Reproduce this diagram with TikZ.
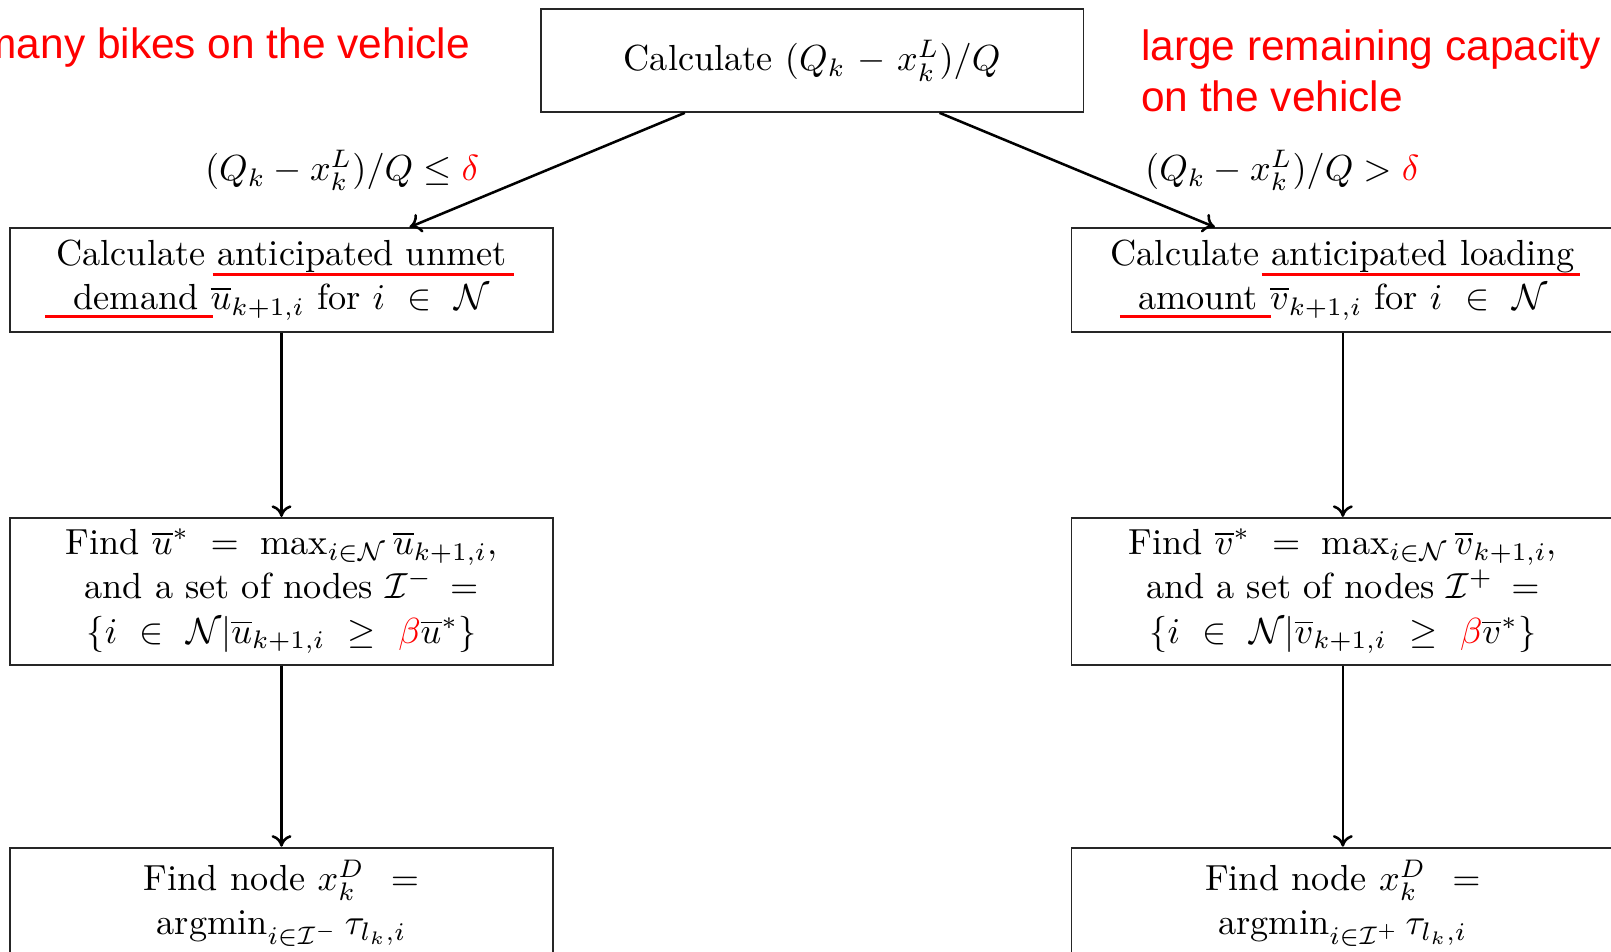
\documentclass[tikz,border=0pt]{standalone}
\usepackage{fontspec}
\newfontfamily\annotfont{Liberation Sans}
\usetikzlibrary{calc,arrows.meta}
\begin{document}
\begin{tikzpicture}[x=0.2833pt,y=-0.2833pt,
  box/.style={draw=black!85, line width=0.5pt, rectangle, align=center,
    minimum width=149.6pt, text width=140pt, inner xsep=4.8pt, inner ysep=0pt,
    font=\fontsize{10}{12.2}\selectfont},
  cond/.style={font=\fontsize{10}{12}\selectfont, inner sep=0pt},
  arr/.style={-{To[length=3.2pt,width=5.5pt]}, line width=0.7pt},
  note/.style={text=red, font=\annotfont\fontsize{11.7}{14.2}\selectfont, inner sep=0pt},
  uline/.style={red, line width=0.9pt}]
\useasboundingbox (0,0) rectangle (1568,926);
\clip (0,0) rectangle (1568,926);

% boxes
\node[box, minimum height=28.3pt] (top) at (790.5,59) {Calculate $(Q_k - x_k^L)/Q$};
\node[box, minimum height=28.6pt] (l1) at (274,272.5)
  {Calculate anticipated unmet\\ demand $\overline{u}_{k+1,i}$ for $i \,\in\, \mathcal{N}$};
\node[box, minimum height=28.6pt] (r1) at (1307,272.5)
  {Calculate anticipated loading\\ amount $\overline{v}_{k+1,i}$ for $i \,\in\, \mathcal{N}$};
\node[box, minimum height=40.5pt] (l2) at (274,575.5)
  {Find $\overline{u}^{*} \,=\, \max_{i\in\mathcal{N}}\overline{u}_{k+1,i}$,\\
   and a set of nodes $\mathcal{I}^{-} =$\\
   $\{i \mkern2mu\in\mkern2mu \mathcal{N}|\overline{u}_{k+1,i} \mkern2mu\geq\mkern2mu {\color{red}\beta}\overline{u}^{*}\}$};
\node[box, minimum height=40.5pt] (r2) at (1307,575.5)
  {Find $\overline{v}^{*} \,=\, \max_{i\in\mathcal{N}}\overline{v}_{k+1,i}$,\\
   and a set of nodes $\mathcal{I}^{+} =$\\
   $\{i \mkern2mu\in\mkern2mu \mathcal{N}|\overline{v}_{k+1,i} \mkern2mu\geq\mkern2mu {\color{red}\beta}\overline{v}^{*}\}$};
\node[box, minimum height=30.6pt] (l3) at (274,879)
  {Find node $x_k^D =$\\ $\mathrm{argmin}_{i\in\mathcal{I}^{-}}\,\tau_{l_k,i}$};
\node[box, minimum height=30.6pt] (r3) at (1307,879)
  {Find node $x_k^D =$\\ $\mathrm{argmin}_{i\in\mathcal{I}^{+}}\,\tau_{l_k,i}$};

% condition labels
\node[cond] (cl) at (333,166) {$(Q_k - x_k^L)/Q \leq {\color{red}\delta}$};
\node[cond] (cr) at (1248,166) {$(Q_k - x_k^L)/Q > {\color{red}\delta}$};

% red annotations
\node[note, anchor=base east] (n1) at (458,57) {many bikes on the vehicle};
\node[note, anchor=north west, align=left] (n2) at (1110,28) {large remaining capacity\\on the vehicle};

% underlines
\draw[uline] (207,267) -- (500,267);
\draw[uline] (44,308) -- (207,308);
\draw[uline] (1228,267) -- (1538,267);
\draw[uline] (1090,308) -- (1237,308);

% connectors
\draw[arr] ($(top.south west)!0.266!(top.south east)$) -- ($(l1.north west)!0.735!(l1.north east)$);
\draw[arr] ($(top.south west)!0.734!(top.south east)$) -- ($(r1.north west)!0.265!(r1.north east)$);
\draw[arr] (l1) -- (l2);
\draw[arr] (l2) -- (l3);
\draw[arr] (r1) -- (r2);
\draw[arr] (r2) -- (r3);
\end{tikzpicture}
\end{document}
